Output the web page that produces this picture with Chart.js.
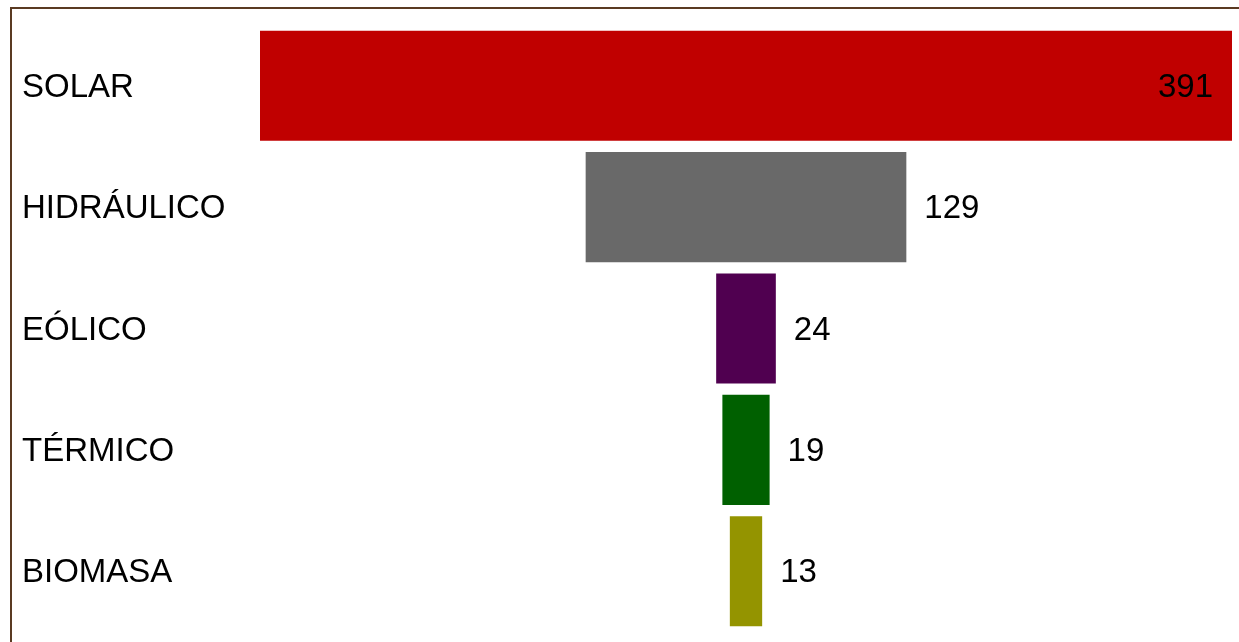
<!DOCTYPE html>
<html>
<head>
<meta charset="utf-8">
<script src="https://cdn.jsdelivr.net/npm/chart.js@4/dist/chart.umd.min.js"></script>
<style>
  html, body { margin: 0; padding: 0; background: #fff; overflow: hidden; }
  #wrap { position: relative; width: 1239px; height: 642px; }
  #frame {
    position: absolute; left: 10px; top: 7px; width: 1400px; height: 800px;
    border: 2px solid #5a3a22; pointer-events: none;
  }
</style>
</head>
<body>
<div id="wrap">
  <canvas id="funnel" width="1239" height="642"></canvas>
  <div id="frame"></div>
</div>
<script>
// categorías y valores del embudo
const categories = ['SOLAR', 'HIDRÁULICO', 'EÓLICO', 'TÉRMICO', 'BIOMASA'];
const values = [391, 129, 24, 19, 13];
const barColors = ['#c00000', '#696969', '#500050', '#006000', '#949400'];

const maxVal = Math.max(...values);

// barras flotantes centradas en 0
const floating = values.map(v => [-v / 2, v / 2]);

// etiquetas de valor: a la derecha de la barra, o dentro si no cabe
const valueLabels = {
  id: 'valueLabels',
  afterDatasetsDraw(chart) {
    const ctx = chart.ctx;
    const meta = chart.getDatasetMeta(0);
    const area = chart.chartArea;
    ctx.save();
    ctx.font = '33px "Liberation Sans", Arial, sans-serif';
    ctx.fillStyle = '#000';
    ctx.textBaseline = 'middle';
    meta.data.forEach((bar, i) => {
      const txt = String(values[i]);
      const w = ctx.measureText(txt).width;
      const end = bar.x;
      if (end + 18 + w > area.right) {
        ctx.textAlign = 'right';
        ctx.fillText(txt, end - 19, bar.y + 2);
      } else {
        ctx.textAlign = 'left';
        ctx.fillText(txt, end + 18, bar.y + 2);
      }
    });
    ctx.restore();
  }
};

new Chart(document.getElementById('funnel').getContext('2d'), {
  type: 'bar',
  data: {
    labels: categories,
    datasets: [{
      data: floating,
      backgroundColor: barColors,
      borderWidth: 0,
      categoryPercentage: 1,
      barPercentage: 0.907
    }]
  },
  options: {
    indexAxis: 'y',
    responsive: false,
    animation: false,
    layout: { padding: { left: 22, top: 25, right: 7, bottom: 10 } },
    plugins: { legend: { display: false }, tooltip: { enabled: false } },
    scales: {
      x: {
        display: false,
        min: -maxVal / 2,
        max: maxVal / 2
      },
      y: {
        grid: { display: false, drawTicks: false },
        border: { display: false },
        ticks: {
          crossAlign: 'far',
          padding: 0,
          labelOffset: 2,
          color: '#000',
          font: { family: '"Liberation Sans", Arial, sans-serif', size: 33, lineHeight: 1.0 }
        },
        afterFit(scale) {
          scale.width = 238;
          scale.paddingTop = 0;
          scale.paddingBottom = 0;
        }
      }
    }
  },
  plugins: [valueLabels]
});
</script>
</body>
</html>
